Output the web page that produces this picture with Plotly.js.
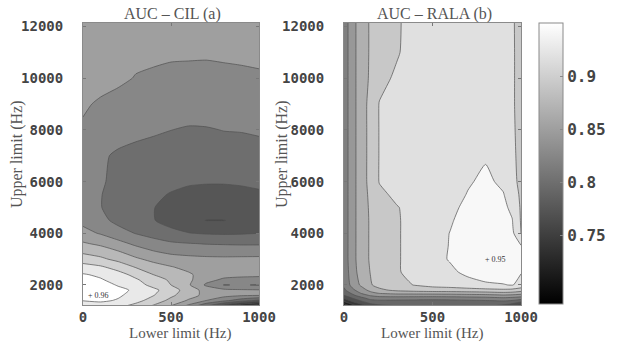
<!DOCTYPE html>
<html>
<head>
<meta charset="utf-8">
<script src="https://cdn.plot.ly/plotly-3.0.1.min.js"></script>
<style>
  html, body { margin: 0; padding: 0; background: #fff; }
  #chart { width: 625px; height: 347px; }
</style>
</head>
<body>
<div id="chart"></div>
<script>
// ---- Panel (a): AUC for the CIL features, per band (lower limit x upper limit, Hz) ----
const lowerLimitCIL = [0, 100, 200, 300, 400, 500, 600, 700, 800, 900, 1000];
const upperLimitCIL = [1200, 1400, 1600, 1800, 2000, 2200, 2400, 2700, 3000, 3300, 3600,
                       4000, 4500, 5000, 5500, 6000, 7000, 8000, 9000, 10000, 11000, 12150];
// one row per upper limit, one column per lower limit
const aucCIL = [
  [0.935, 0.940, 0.932, 0.918, 0.898, 0.875, 0.845, 0.805, 0.765, 0.728, 0.700],
  [0.951, 0.954, 0.948, 0.933, 0.915, 0.893, 0.872, 0.850, 0.832, 0.812, 0.795],
  [0.960, 0.958, 0.953, 0.942, 0.926, 0.905, 0.885, 0.868, 0.858, 0.853, 0.851],
  [0.957, 0.956, 0.953, 0.948, 0.931, 0.912, 0.888, 0.866, 0.856, 0.853, 0.852],
  [0.957, 0.955, 0.949, 0.935, 0.918, 0.900, 0.878, 0.846, 0.8245, 0.826, 0.824],
  [0.956, 0.952, 0.942, 0.928, 0.912, 0.896, 0.880, 0.858, 0.846, 0.844, 0.845],
  [0.952, 0.946, 0.934, 0.918, 0.900, 0.888, 0.878, 0.866, 0.858, 0.855, 0.853],
  [0.935, 0.928, 0.915, 0.898, 0.885, 0.876, 0.869, 0.864, 0.860, 0.858, 0.857],
  [0.912, 0.905, 0.893, 0.879, 0.868, 0.862, 0.858, 0.856, 0.855, 0.855, 0.855],
  [0.895, 0.888, 0.876, 0.862, 0.851, 0.843, 0.840, 0.838, 0.838, 0.839, 0.840],
  [0.878, 0.870, 0.858, 0.845, 0.836, 0.829, 0.826, 0.824, 0.823, 0.822, 0.822],
  [0.858, 0.848, 0.835, 0.824, 0.815, 0.806, 0.801, 0.798, 0.797, 0.798, 0.800],
  [0.843, 0.832, 0.818, 0.808, 0.801, 0.792, 0.781, 0.7745, 0.7745, 0.779, 0.783],
  [0.833, 0.826, 0.812, 0.805, 0.8005, 0.795, 0.791, 0.789, 0.789, 0.790, 0.792],
  [0.834, 0.826, 0.815, 0.808, 0.803, 0.799, 0.797, 0.796, 0.796, 0.797, 0.798],
  [0.835, 0.828, 0.818, 0.812, 0.808, 0.804, 0.8015, 0.801, 0.801, 0.8015, 0.803],
  [0.838, 0.829, 0.821, 0.818, 0.816, 0.815, 0.814, 0.814, 0.815, 0.816, 0.819],
  [0.847, 0.842, 0.836, 0.831, 0.828, 0.8252, 0.823, 0.8235, 0.8255, 0.826, 0.827],
  [0.853, 0.847, 0.843, 0.840, 0.838, 0.837, 0.836, 0.836, 0.836, 0.837, 0.838],
  [0.862, 0.858, 0.854, 0.849, 0.847, 0.845, 0.844, 0.843, 0.844, 0.845, 0.846],
  [0.866, 0.862, 0.858, 0.855, 0.854, 0.853, 0.853, 0.853, 0.854, 0.855, 0.857],
  [0.872, 0.870, 0.868, 0.866, 0.865, 0.864, 0.864, 0.864, 0.864, 0.865, 0.866]
];
const levelsCIL = [0.725, 0.95, 0.025];   // first level, last level, step

// ---- Panel (b): AUC for the RALA features ----
const lowerLimitRALA = [0, 50, 100, 150, 200, 300, 400, 500, 600, 700, 800, 900, 950, 1000];
const upperLimitRALA = [1200, 1300, 1400, 1500, 1600, 1700, 1800, 2000, 2500, 3000, 3500,
                        4000, 4500, 5000, 5500, 6000, 7000, 8000, 9000, 10000, 11000, 12150];
const aucRALA = [
  [0.685, 0.720, 0.745, 0.765, 0.775, 0.780, 0.782, 0.785, 0.785, 0.786, 0.785, 0.775, 0.765, 0.740],
  [0.715, 0.745, 0.765, 0.785, 0.790, 0.790, 0.790, 0.790, 0.790, 0.792, 0.793, 0.790, 0.785, 0.770],
  [0.740, 0.765, 0.785, 0.800, 0.803, 0.802, 0.801, 0.800, 0.801, 0.803, 0.805, 0.808, 0.805, 0.795],
  [0.760, 0.783, 0.800, 0.815, 0.820, 0.820, 0.819, 0.818, 0.819, 0.821, 0.823, 0.828, 0.825, 0.820],
  [0.780, 0.800, 0.820, 0.833, 0.840, 0.843, 0.843, 0.843, 0.844, 0.846, 0.848, 0.852, 0.850, 0.845],
  [0.790, 0.813, 0.835, 0.850, 0.860, 0.866, 0.867, 0.868, 0.869, 0.871, 0.873, 0.877, 0.875, 0.870],
  [0.800, 0.825, 0.845, 0.862, 0.875, 0.885, 0.890, 0.893, 0.894, 0.896, 0.898, 0.900, 0.898, 0.890],
  [0.810, 0.840, 0.860, 0.878, 0.888, 0.897, 0.906, 0.912, 0.915, 0.920, 0.926, 0.929, 0.931, 0.924],
  [0.813, 0.846, 0.866, 0.881, 0.891, 0.903, 0.912, 0.918, 0.925, 0.936, 0.943, 0.941, 0.938, 0.931],
  [0.815, 0.848, 0.868, 0.883, 0.893, 0.903, 0.913, 0.921, 0.932, 0.944, 0.950, 0.946, 0.942, 0.934],
  [0.815, 0.848, 0.868, 0.883, 0.893, 0.903, 0.913, 0.922, 0.931, 0.942, 0.947, 0.944, 0.940, 0.932],
  [0.815, 0.848, 0.868, 0.883, 0.893, 0.903, 0.913, 0.922, 0.9305, 0.940, 0.944, 0.941, 0.936, 0.904],
  [0.815, 0.848, 0.868, 0.883, 0.893, 0.903, 0.913, 0.921, 0.928, 0.938, 0.942, 0.938, 0.931, 0.903],
  [0.815, 0.848, 0.868, 0.884, 0.895, 0.904, 0.912, 0.920, 0.925, 0.935, 0.940, 0.935, 0.925, 0.902],
  [0.815, 0.848, 0.868, 0.886, 0.900, 0.910, 0.917, 0.920, 0.922, 0.931, 0.937, 0.931, 0.920, 0.900],
  [0.815, 0.848, 0.868, 0.889, 0.906, 0.912, 0.917, 0.920, 0.923, 0.928, 0.934, 0.926, 0.912, 0.899],
  [0.815, 0.848, 0.868, 0.889, 0.906, 0.912, 0.916, 0.919, 0.921, 0.925, 0.928, 0.922, 0.910, 0.898],
  [0.815, 0.848, 0.868, 0.889, 0.906, 0.912, 0.916, 0.918, 0.920, 0.922, 0.924, 0.920, 0.909, 0.897],
  [0.815, 0.848, 0.868, 0.889, 0.906, 0.912, 0.916, 0.918, 0.920, 0.921, 0.922, 0.919, 0.908, 0.897],
  [0.815, 0.848, 0.868, 0.884, 0.898, 0.909, 0.916, 0.918, 0.919, 0.920, 0.921, 0.918, 0.908, 0.897],
  [0.815, 0.848, 0.868, 0.883, 0.891, 0.903, 0.915, 0.918, 0.919, 0.920, 0.920, 0.918, 0.908, 0.897],
  [0.815, 0.848, 0.868, 0.883, 0.890, 0.902, 0.915, 0.918, 0.919, 0.920, 0.920, 0.918, 0.908, 0.896]
];
const levelsRALA = [0.705, 0.93, 0.025];

// ---- Axes and labels ----
const xTicks = [0, 500, 1000];
const yTicks = [2000, 4000, 6000, 8000, 10000, 12000];
const colorbarTicks = [0.75, 0.8, 0.85, 0.9];
const panelTitles = ['AUC – CIL (a)', 'AUC – RALA (b)'];
const xTitle = 'Lower limit (Hz)';
const yTitle = 'Upper limit (Hz)';

// ---- helpers ----
function zLimits(z) {
  let lo = Infinity, hi = -Infinity;
  z.forEach(r => r.forEach(v => { if (v < lo) lo = v; if (v > hi) hi = v; }));
  return [lo, hi];
}
function argMax(z, xs, ys) {
  let best = -Infinity, bx = 0, by = 0;
  z.forEach((r, j) => r.forEach((v, i) => { if (v > best) { best = v; bx = xs[i]; by = ys[j]; } }));
  return { x: bx, y: by, v: best };
}
function gray(v, lim) {
  let t = (v - lim[0]) / (lim[1] - lim[0]);
  t = Math.max(0, Math.min(1, t));
  const g = Math.round(t * 255);
  return 'rgb(' + g + ',' + g + ',' + g + ')';
}
// Plotly fills each band with the colour of its mid value; build a scale so that
// every band gets the grey of its mid value on the panel's own colour limits.
function bandScale(levels, lim) {
  const [start, end, size] = levels;
  const n = Math.round((end - start) / size) + 1;
  const lo = start - size / 2, span = n * size;
  const stops = [];
  for (let i = 0; i <= 40; i++) {
    const p = i / 40;
    stops.push([p, gray(lo + p * span, lim)]);
  }
  return stops;
}

const limCIL = zLimits(aucCIL);
const limRALA = zLimits(aucRALA);
const peakCIL = argMax(aucCIL, lowerLimitCIL, upperLimitCIL);
const peakRALA = argMax(aucRALA, lowerLimitRALA, upperLimitRALA);

function contourTrace(x, y, z, levels, lim, xa, ya) {
  return {
    type: 'contour', x: x, y: y, z: z, xaxis: xa, yaxis: ya,
    autocontour: false,
    contours: { start: levels[0], end: levels[1], size: levels[2], coloring: 'fill', showlines: true },
    colorscale: bandScale(levels, lim),
    line: { color: '#505050', width: 0.7, smoothing: 0.6 },
    showscale: false, hoverinfo: 'skip'
  };
}

const traces = [
  contourTrace(lowerLimitCIL, upperLimitCIL, aucCIL, levelsCIL, limCIL, 'x', 'y'),
  contourTrace(lowerLimitRALA, upperLimitRALA, aucRALA, levelsRALA, limRALA, 'x2', 'y2'),
  // carries the continuous grey colour bar of panel (b)
  {
    type: 'scatter', mode: 'markers', x: [null], y: [null], xaxis: 'x2', yaxis: 'y2',
    hoverinfo: 'skip', showlegend: false,
    marker: { color: [limRALA[0]], coloraxis: 'coloraxis', opacity: 0 }
  }
];

const tickFontY = { family: 'DejaVu Sans Mono', size: 14, color: '#444', weight: 'bold' };
const tickFontX = { family: 'DejaVu Sans Mono', size: 14, color: '#444', weight: 'bold' };
const titleFont = { family: 'Liberation Serif', size: 16, color: '#555' };

function xAxis(domain, anchor) {
  return {
    domain: domain, anchor: anchor, range: [0, 1000], tickvals: xTicks, tickformat: 'd',
    ticks: 'inside', ticklen: 3, tickcolor: '#777', showline: true, mirror: 'ticks',
    linecolor: '#8a8a8a', linewidth: 1, showgrid: false, zeroline: false,
    tickfont: tickFontX, ticklabelstandoff: -1, fixedrange: true
  };
}
function yAxis(domain, anchor) {
  return {
    domain: domain, anchor: anchor, range: [1225, 12140], tickvals: yTicks, tickformat: 'd',
    ticks: 'inside', ticklen: 3, tickcolor: '#777', showline: true, mirror: 'ticks',
    linecolor: '#8a8a8a', linewidth: 1, showgrid: false, zeroline: false,
    tickfont: tickFontY, ticklabelstandoff: 16, fixedrange: true
  };
}

function paperText(text, x, y, angle, size) {
  return { text: text, xref: 'paper', yref: 'paper', x: x, y: y, xanchor: 'center', yanchor: 'middle',
           textangle: angle || 0, showarrow: false,
           font: { family: titleFont.family, size: size || titleFont.size, color: titleFont.color } };
}

const yDom = [0.121, 0.934];
const layout = {
  width: 625, height: 347,
  margin: { l: 0, r: 0, t: 0, b: 0 },
  paper_bgcolor: '#fff', plot_bgcolor: '#fff',
  showlegend: false,
  xaxis: xAxis([0.1328, 0.4144], 'y'),
  yaxis: yAxis(yDom, 'x'),
  xaxis2: xAxis([0.5504, 0.8336], 'y2'),
  yaxis2: yAxis(yDom, 'x2'),
  coloraxis: {
    cmin: limRALA[0], cmax: limRALA[1],
    colorscale: [[0, 'rgb(0,0,0)'], [1, 'rgb(255,255,255)']],
    colorbar: {
      x: 0.8624, xanchor: 'left', xpad: 0, thickness: 24,
      y: 0.5288, yanchor: 'middle', ypad: 0, lenmode: 'pixels', len: 281,
      outlinewidth: 1, outlinecolor: '#8a8a8a',
      ticks: 'inside', ticklen: 3, tickcolor: '#888',
      tickvals: colorbarTicks,
      tickfont: { family: 'DejaVu Sans Mono', size: 16, color: '#444', weight: 'bold' }
    }
  },
  annotations: [
    paperText(panelTitles[0], 0.2752, 0.9597),
    paperText(panelTitles[1], 0.696, 0.9597),
    paperText(xTitle, 0.288, 0.040, 0, 15),
    paperText(xTitle, 0.6912, 0.040, 0, 15),
    paperText(yTitle, 0.0272, 0.556, -90),
    paperText(yTitle, 0.4512, 0.556, -90),
    // peak value markers
    { text: '+ ' + peakCIL.v.toFixed(2), xref: 'x', yref: 'y', x: peakCIL.x, y: peakCIL.y,
      xanchor: 'left', xshift: 3, showarrow: false,
      font: { family: 'Liberation Serif', size: 8, color: '#333' } },
    { text: '+ ' + peakRALA.v.toFixed(2), xref: 'x2', yref: 'y2', x: peakRALA.x, y: peakRALA.y,
      xanchor: 'left', xshift: -3, showarrow: false,
      font: { family: 'Liberation Serif', size: 8, color: '#333' } }
  ]
};

Plotly.newPlot('chart', traces, layout, { staticPlot: true, displayModeBar: false });
</script>
</body>
</html>
